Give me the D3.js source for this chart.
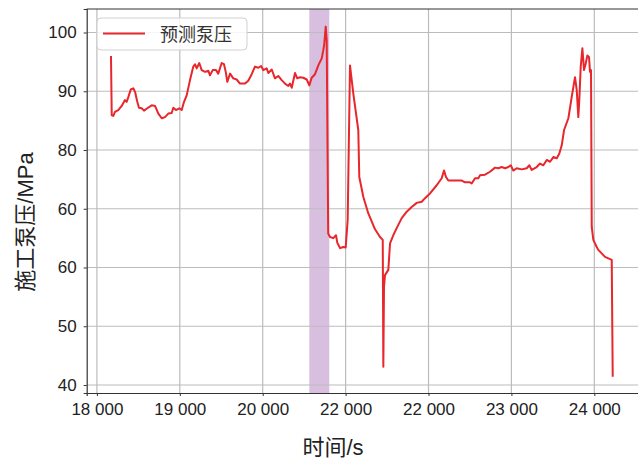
<!DOCTYPE html>
<html>
<head>
<meta charset="utf-8">
<script src="https://cdn.jsdelivr.net/npm/d3@7"></script>
<style>
  html, body { margin: 0; padding: 0; background: #fff; }
  svg { display: block; }
  text { font-family: "Liberation Sans", Arial, "Noto Sans CJK SC", sans-serif; }
</style>
</head>
<body>
<svg id="chart" width="638" height="460"></svg>
<script>
// Time (s) and predicted pump pressure (MPa)
const times = [
  18170, 18179, 18198, 18218, 18258, 18299, 18339, 18359, 18379, 18408,
  18439, 18460, 18487, 18508, 18540, 18568, 18608, 18661, 18701, 18741,
  18782, 18821, 18861, 18902, 18922, 18954, 18994, 19023, 19051, 19083,
  19123, 19163, 19183, 19204, 19235, 19264, 19304, 19344, 19364, 19397,
  19437, 19464, 19505, 19533, 19554, 19573, 19606, 19645, 19686, 19726,
  19787, 19826, 19867, 19907, 19947, 19980, 20007, 20048, 20068, 20109,
  20148, 20188, 20229, 20269, 20309, 20329, 20350, 20390, 20417, 20450,
  20490, 20531, 20562, 20591, 20631, 20671, 20691, 20712, 20731, 20743,
  20760, 20772, 20790, 20812, 20852, 20884, 20900, 20933, 20972, 21001,
  21025, 21053, 21093, 21153, 21165, 21214, 21274, 21355, 21415, 21448,
  21455, 21463, 21475, 21515, 21536, 21576, 21616, 21677, 21737, 21797,
  21858, 21918, 21958, 22018, 22099, 22159, 22187, 22211, 22239, 22340,
  22401, 22441, 22501, 22521, 22561, 22601, 22621, 22682, 22742, 22802,
  22842, 22883, 22923, 22963, 22992, 23023, 23064, 23124, 23185, 23216,
  23245, 23305, 23345, 23385, 23426, 23466, 23506, 23547, 23578, 23607,
  23635, 23687, 23727, 23767, 23788, 23807, 23819, 23836, 23856, 23876,
  23896, 23916, 23936, 23948, 23960, 23969, 23988, 24029, 24048, 24089,
  24129, 24210, 24222
];
const pressure = [
  96.0, 85.9, 85.8, 86.5, 86.8, 87.5, 88.5, 88.2, 89.0, 90.3,
  90.5, 89.9, 88.2, 87.2, 87.1, 86.7, 87.1, 87.6, 87.5, 86.2,
  85.4, 85.6, 86.2, 86.3, 87.2, 86.8, 87.1, 86.8, 88.2, 89.3,
  91.9, 94.2, 94.6, 93.9, 94.8, 93.6, 93.3, 93.5, 92.7, 93.6,
  93.6, 93.0, 94.8, 94.6, 93.3, 91.6, 93.0, 92.2, 92.0, 91.3,
  91.3, 91.8, 92.9, 94.2, 94.0, 94.3, 93.6, 93.9, 93.1, 93.7,
  92.2, 92.6, 91.9, 91.3, 90.9, 91.3, 90.6, 93.1, 92.2, 92.4,
  92.3, 92.0, 91.0, 92.3, 92.9, 94.4, 95.0, 95.6, 97.0, 98.1,
  101.0, 98.7, 65.8, 65.2, 65.0, 65.5, 64.2, 63.3, 63.5, 63.4,
  68.1, 94.4, 89.6, 83.4, 75.4, 72.0, 69.2, 66.5, 65.2, 64.7,
  43.1, 56.7, 58.7, 59.6, 64.1, 65.5, 66.7, 68.4, 69.5, 70.3,
  71.0, 71.2, 71.8, 72.6, 74.0, 75.2, 76.5, 75.4, 74.8, 74.8,
  74.8, 74.5, 74.5, 74.3, 75.2, 75.2, 75.7, 75.8, 76.3, 77.0,
  76.9, 77.1, 76.9, 77.1, 77.4, 76.5, 76.9, 76.7, 76.9, 77.4,
  76.6, 77.1, 77.7, 77.4, 78.3, 78.0, 78.8, 78.6, 79.4, 80.8,
  83.4, 85.4, 89.0, 92.4, 90.2, 85.6, 88.5, 94.2, 97.3, 93.6,
  94.7, 96.1, 95.8, 93.3, 93.6, 66.9, 64.7, 63.5, 63.0, 62.4,
  61.8, 61.3, 41.4
];

// Highlighted time window
const bandStart = 20562;
const bandEnd = 20803;

// Axis ticks and their printed labels
const xTickValues = [18000, 19000, 20000, 21000, 22000, 23000, 24000];
const xTickLabels = ["18 000", "19 000", "20 000", "22 000", "22 000", "23 000", "24 000"];
const yTickValues = [100, 90, 80, 70, 60, 50, 40];
const yTickLabels = ["100", "90", "80", "60", "60", "50", "40"];

const seriesName = "预测泵压";
const xTitle = "时间/s";
const yTitle = "施工泵压/MPa";

const svg = d3.select("#chart");
const plot = { left: 86.7, top: 9, right: 640, bottom: 393 };

const x = d3.scaleLinear().domain([17877, 24551]).range([plot.left, plot.right]);
const y = d3.scaleLinear().domain([38.64, 104]).range([plot.bottom, plot.top]);

// Shaded window
svg.append("rect")
  .attr("x", x(bandStart))
  .attr("y", plot.top)
  .attr("width", x(bandEnd) - x(bandStart))
  .attr("height", plot.bottom - plot.top)
  .attr("fill", "#d8bfe0");

// Grid
const grid = svg.append("g").attr("stroke", "#bcbcbc").attr("stroke-width", 1.2);
xTickValues.forEach(v => {
  grid.append("line")
    .attr("x1", x(v)).attr("x2", x(v))
    .attr("y1", plot.top).attr("y2", plot.bottom);
});
yTickValues.forEach(v => {
  grid.append("line")
    .attr("x1", plot.left).attr("x2", plot.right)
    .attr("y1", y(v)).attr("y2", y(v));
});

// Pressure line
const data = times.map((t, i) => ({ t, p: pressure[i] }));
const line = d3.line().x(d => x(d.t)).y(d => y(d.p));
svg.append("path")
  .datum(data)
  .attr("d", line)
  .attr("fill", "none")
  .attr("stroke", "#e8262b")
  .attr("stroke-width", 2)
  .attr("stroke-linejoin", "round");

// Axes
const xAxis = d3.axisBottom(x)
  .tickValues(xTickValues)
  .tickFormat((d, i) => xTickLabels[i])
  .tickSize(3)
  .tickPadding(7);
const yAxis = d3.axisLeft(y)
  .tickValues(yTickValues)
  .tickFormat((d, i) => yTickLabels[i])
  .tickSize(3)
  .tickPadding(7);

const gx = svg.append("g").attr("transform", `translate(0,${plot.bottom})`).call(xAxis);
const gy = svg.append("g").attr("transform", `translate(${plot.left},0)`).call(yAxis);
[gx, gy].forEach(g => {
  g.select(".domain").attr("stroke", "#333").attr("stroke-width", 1.2);
  g.selectAll(".tick line").attr("stroke", "#333");
  g.selectAll(".tick text").attr("fill", "#222").style("font-size", "17px");
});

// Top spine
svg.append("line")
  .attr("x1", plot.left).attr("x2", plot.right)
  .attr("y1", plot.top).attr("y2", plot.top)
  .attr("stroke", "#333").attr("stroke-width", 1.2);

// Axis titles
svg.append("text")
  .attr("x", 333).attr("y", 455)
  .attr("text-anchor", "middle")
  .attr("fill", "#222")
  .style("font-size", "22px")
  .text(xTitle);
svg.append("text")
  .attr("transform", "translate(33,222) rotate(-90)")
  .attr("text-anchor", "middle")
  .attr("fill", "#222")
  .style("font-size", "22px")
  .text(yTitle);

// Legend
const legend = svg.append("g");
legend.append("rect")
  .attr("x", 97).attr("y", 18).attr("width", 150).attr("height", 32)
  .attr("rx", 4)
  .attr("fill", "#fff").attr("fill-opacity", 0.85)
  .attr("stroke", "#d0d0d0");
legend.append("line")
  .attr("x1", 103).attr("x2", 145)
  .attr("y1", 33.5).attr("y2", 33.5)
  .attr("stroke", "#e8262b").attr("stroke-width", 2);
legend.append("text")
  .attr("x", 160).attr("y", 41)
  .attr("fill", "#333")
  .style("font-size", "18px")
  .text(seriesName);
</script>
</body>
</html>
